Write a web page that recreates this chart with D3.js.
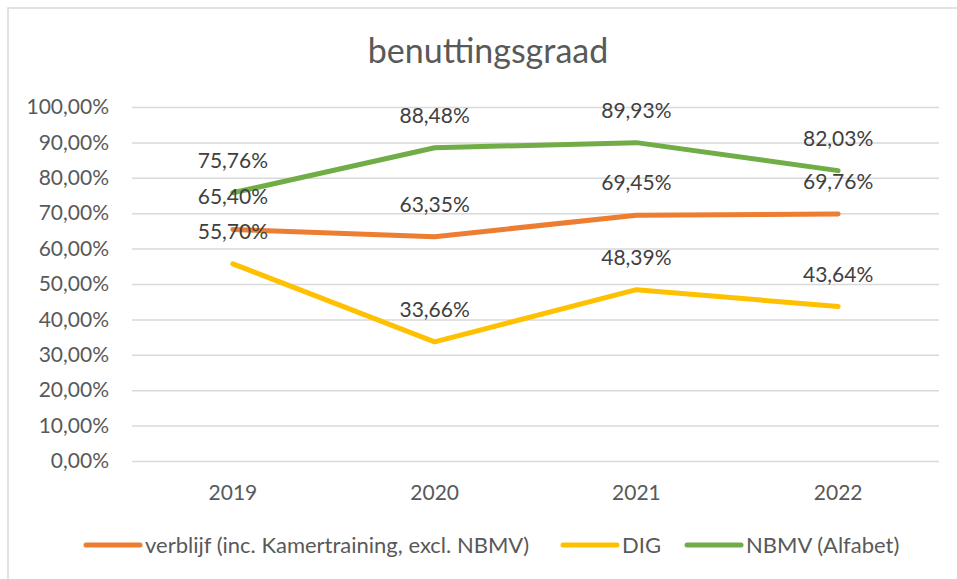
<!DOCTYPE html>
<html>
<head>
<meta charset="utf-8">
<script src="https://cdn.jsdelivr.net/npm/d3@7"></script>
<style>
  html, body { margin: 0; padding: 0; background: #fff; }
  svg { display: block; font-family: Lato, "Open Sans", sans-serif; }
</style>
</head>
<body>
<svg id="chart" width="957" height="579"></svg>
<script>
const title = "benuttingsgraad";
const years = ["2019", "2020", "2021", "2022"];
const seriesNames = ["verblijf (inc. Kamertraining, excl. NBMV)", "DIG", "NBMV (Alfabet)"];
const verblijf = [65.40, 63.35, 69.45, 69.76];
const dig = [55.70, 33.66, 48.39, 43.64];
const nbmv = [75.76, 88.48, 89.93, 82.03];
const yTicks = [0, 10, 20, 30, 40, 50, 60, 70, 80, 90, 100];
const colors = ["#ED7D31", "#FFC000", "#70AD47"];

const series = [verblijf, dig, nbmv].map((vals, i) => ({ name: seriesNames[i], values: vals, color: colors[i] }));

const locale = d3.formatLocale({ decimal: ",", thousands: ".", grouping: [3], currency: ["€", ""] });
const fmt = locale.format(".2f");
const pct = v => fmt(v) + "%";

const svg = d3.select("#chart");
const m = { left: 132, right: 939, top: 107, bottom: 461 };

// frame
svg.append("rect").attr("x", 8).attr("y", 8).attr("width", 1200).attr("height", 1200)
  .attr("fill", "none").attr("stroke", "#d9d9d9").attr("stroke-width", 1.5);

// title
svg.append("text").attr("x", 488).attr("y", 63).attr("text-anchor", "middle")
  .attr("font-size", 34).attr("fill", "#595959").text(title);

const x = d3.scaleBand().domain(years).range([m.left, m.right]);
const y = d3.scaleLinear().domain([0, 100]).range([m.bottom, m.top]);
const cx = d => x(d) + x.bandwidth() / 2;

// gridlines + y labels
const yAxis = d3.axisLeft(y).tickValues(yTicks).tickSize(-(m.right - m.left)).tickFormat(pct).tickPadding(23);
const gy = svg.append("g").attr("transform", `translate(${m.left},0)`).call(yAxis);
gy.select(".domain").remove();
gy.selectAll(".tick line").attr("stroke", "#d9d9d9").attr("stroke-width", 1.5);
gy.selectAll(".tick text").attr("fill", "#595959").attr("font-size", 21).attr("font-family", "Lato, sans-serif");

// x axis labels
const xAxis = d3.axisBottom(x).tickSize(0).tickPadding(24);
const gx = svg.append("g").attr("transform", `translate(0,${m.bottom})`).call(xAxis);
gx.select(".domain").remove();
gx.selectAll(".tick text").attr("fill", "#595959").attr("font-size", 21).attr("font-family", "Lato, sans-serif");

// lines
const line = d3.line().x((d, i) => cx(years[i])).y(d => y(d));
svg.append("g").selectAll("path").data(series).join("path")
  .attr("d", s => line(s.values))
  .attr("fill", "none").attr("stroke", s => s.color).attr("stroke-width", 5)
  .attr("stroke-linecap", "round").attr("stroke-linejoin", "round");

// data labels
const lg = svg.append("g");
series.forEach(s => {
  lg.selectAll(null).data(s.values).join("text")
    .attr("x", (d, i) => cx(years[i]))
    .attr("y", d => y(d) - 25)
    .attr("text-anchor", "middle")
    .attr("font-size", 21).attr("fill", "#404040")
    .text(d => pct(d));
});

// legend
const legendY = 545;
const legendX = [86, 563, 687];
const leg = svg.append("g");
series.forEach((s, i) => {
  leg.append("line").attr("x1", legendX[i]).attr("x2", legendX[i] + 54)
    .attr("y1", legendY).attr("y2", legendY)
    .attr("stroke", s.color).attr("stroke-width", 5).attr("stroke-linecap", "round");
  leg.append("text").attr("x", legendX[i] + 59).attr("y", legendY + 8)
    .attr("font-size", 22).attr("fill", "#595959").text(s.name);
});
</script>
</body>
</html>
